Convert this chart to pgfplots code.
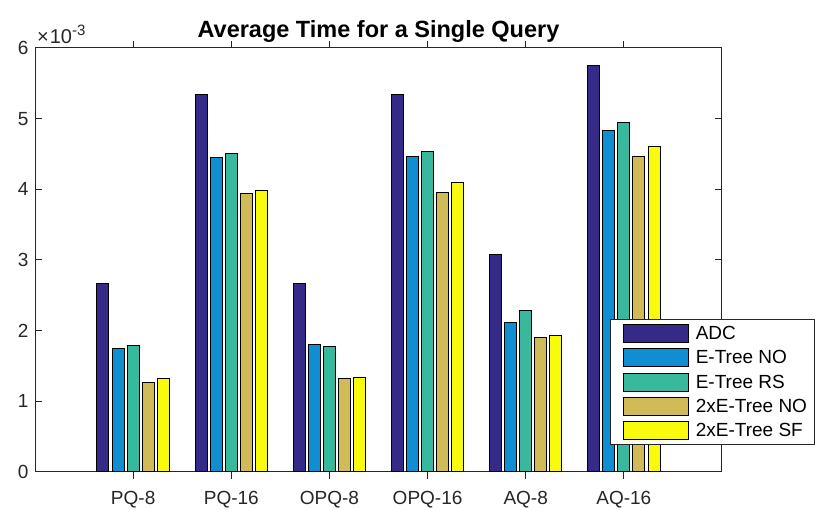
\documentclass[border=0pt]{standalone}
\usepackage{fontspec}
\setmainfont{Liberation Sans}
\usepackage{pgfplots}
\pgfplotsset{compat=1.18}
\definecolor{c1}{rgb}{0.2081,0.1663,0.5292}
\definecolor{c2}{rgb}{0.0641,0.5570,0.8240}
\definecolor{c3}{rgb}{0.2178,0.7250,0.6193}
\definecolor{c4}{rgb}{0.8185,0.7327,0.3498}
\definecolor{c5}{rgb}{0.9763,0.9831,0.0538}
\definecolor{axc}{rgb}{0.15,0.15,0.15}
\begin{document}
\begin{tikzpicture}
\useasboundingbox (0,0) rectangle (830pt,510pt);
\begin{axis}[
  at={(35pt,38pt)}, anchor=south west,
  width=687pt, height=424pt, scale only axis,
  clip=false,
  xmin=0, xmax=7, ymin=0, ymax=6,
  xtick={1,2,3,4,5,6},
  xticklabels={PQ-8,PQ-16,OPQ-8,OPQ-16,AQ-8,AQ-16},
  ytick={0,1,2,3,4,5,6},
  tick align=inside, major tick length=7pt,
  axis line style={axc, line width=1pt},
  every tick/.style={axc, line width=1pt},
  tick label style={font=\fontsize{19}{19}\selectfont, text=axc},
  /pgf/number format/assume math mode=true,
  xticklabel style={yshift=-9pt},
  yticklabel style={xshift=-3pt},
  ybar, bar width=0.123,
  title={Average Time for a Single Query},
  title style={font=\bfseries\fontsize{23.5}{23.5}\selectfont, at={(0.5,1)}, anchor=base, yshift=4pt},
  legend image code/.code={\path (0pt,0pt); \draw[#1] (5.5pt,-9pt) rectangle (70.5pt,9pt);},
  legend cell align=left,
  legend style={at={(1.1354,0.0637)}, anchor=south east, draw=axc, line width=1pt, fill=white,
    font=\fontsize{19}{19}\selectfont, inner xsep=6.5pt, inner ysep=4pt, row sep=5.4pt,
    nodes={inner sep=1pt, text=black},
    /tikz/every odd column/.append style={column sep=6pt}},
]
\addplot[fill=c1, draw=black, line width=1pt, bar shift=-0.3076] coordinates {(1,2.67) (2,5.335) (3,2.67) (4,5.34) (5,3.08) (6,5.75)};
\addplot[fill=c2, draw=black, line width=1pt, bar shift=-0.1538] coordinates {(1,1.75) (2,4.45) (3,1.80) (4,4.46) (5,2.12) (6,4.83)};
\addplot[fill=c3, draw=black, line width=1pt, bar shift=0] coordinates {(1,1.79) (2,4.50) (3,1.77) (4,4.54) (5,2.28) (6,4.94)};
\addplot[fill=c4, draw=black, line width=1pt, bar shift=0.1538] coordinates {(1,1.26) (2,3.94) (3,1.32) (4,3.96) (5,1.91) (6,4.47)};
\addplot[fill=c5, draw=black, line width=1pt, bar shift=0.3076] coordinates {(1,1.32) (2,3.99) (3,1.34) (4,4.10) (5,1.93) (6,4.60)};
\legend{ADC, E-Tree NO, E-Tree RS, 2xE-Tree NO, 2xE-Tree SF}
\node[anchor=base west, inner sep=0pt, font=\fontsize{20}{20}\selectfont, text=axc] at (rel axis cs:0,1) [xshift=2pt, yshift=4.7pt] {×\kern1pt10\raisebox{8pt}{\fontsize{15}{15}\selectfont -3}};
\end{axis}
\end{tikzpicture}
\end{document}
